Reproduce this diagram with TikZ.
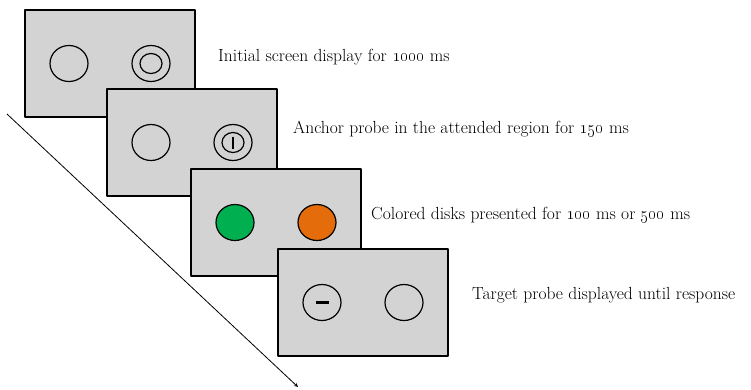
\documentclass[tikz,border=0pt]{standalone}
\usetikzlibrary{shapes.geometric}
\definecolor{screengray}{RGB}{211,211,211}
\definecolor{diskgreen}{RGB}{0,176,80}
\definecolor{diskorange}{RGB}{228,108,10}
\tikzset{
  screen/.style={draw, line width=1.6pt, fill=screengray, minimum width=170pt, minimum height=107pt, inner sep=0pt},
  ring/.style={ellipse, draw, line width=1.2pt, minimum width=38pt, minimum height=36pt, inner sep=0pt},
  innerring/.style={ellipse, draw, line width=1.2pt, minimum width=22pt, minimum height=20pt, inner sep=0pt},
  caption/.style={anchor=west, inner sep=0pt}
}
\begin{document}
\begin{tikzpicture}[x=1pt, y=-1pt, >=stealth, font=\fontsize{17.5}{20}\selectfont, line join=round]
				\useasboundingbox (0,0) rectangle (751,389);
				% time arrow
				\coordinate (tstart) at (7,114);
				\coordinate (tend) at (298,387);
				\draw [->, line width=0.8pt] (tstart)--(tend);
				% screens, back to front
				\path (110,63.5) node[screen](scr1){} (192,142.5) node[screen](scr2){};
				\path (276,222.5) node[screen](scr3){} (363,302.5) node[screen](scr4){};
				% screen 1: initial display
				\path (scr1.center) ++(-41,0) node[ring](s1l){} (scr1.center) ++(41,0) node[ring](s1r){};
				\node[innerring] (s1ri) at (s1r) {};
				% screen 2: anchor probe
				\path (scr2.center) ++(-41,0) node[ring](s2l){} (scr2.center) ++(41,0) node[ring](s2r){};
				\node[innerring] (s2ri) at (s2r) {};
				\draw [line width=1.3pt] (s2ri.center) ++(0,-6)--++(0,12);
				% screen 3: colored disks
				\path (scr3.center) ++(-41,0) node[ring, fill=diskgreen](s3l){} (scr3.center) ++(41,0) node[ring, fill=diskorange](s3r){};
				% screen 4: target probe
				\path (scr4.center) ++(-41,0) node[ring](s4l){} (scr4.center) ++(41,0) node[ring](s4r){};
				\draw [line width=2.2pt] (s4l.center) ++(-6.5,0)--++(13,0);
				% captions
				\path (218,57) node[caption](c1){Initial screen display for \oldstylenums{1000} ms};
				\path (293,129) node[caption](c2){Anchor probe in the attended region for \oldstylenums{150} ms};
				\path (371,215) node[caption](c3){Colored disks presented for \oldstylenums{100} ms or \oldstylenums{500} ms};
				\path (472,295) node[caption](c4){Target probe displayed until response};
			\end{tikzpicture}
\end{document}
